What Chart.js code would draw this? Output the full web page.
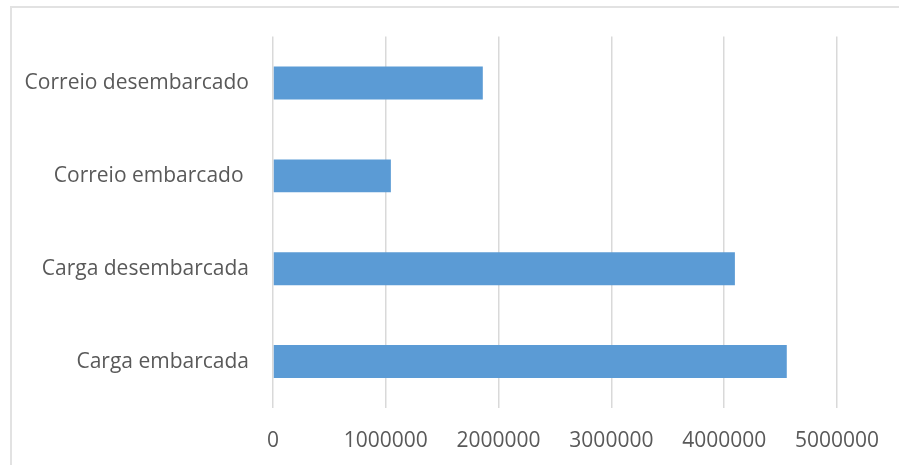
<!DOCTYPE html>
<html>
<head>
<meta charset="utf-8">
<script src="https://cdn.jsdelivr.net/npm/chart.js@4/dist/chart.umd.min.js"></script>
<style>
    html, body {
        margin: 0;
        padding: 0;
        background: #fff;
        overflow: hidden;
    }
    .frame {
        position: absolute;
        left: 10px;
        top: 6px;
        width: 1000px;
        height: 1000px;
        border: 2px solid #e2e2e2;
    }
    .chart {
        position: absolute;
        left: 0;
        top: 0;
        width: 899px;
        height: 465px;
    }
</style>
</head>
<body>
<div class="frame"></div>
<div class="chart">
    <canvas id="myChart" width="899" height="465"></canvas>
</div>
<script>
    const categories = ['Correio desembarcado', 'Correio embarcado ', 'Carga desembarcada', 'Carga embarcada'];
    const values = [1860000, 1045000, 4095000, 4555000];
    const xTicks = [0, 1000000, 2000000, 3000000, 4000000, 5000000];

    const textFont = { family: "'Open Sans', 'Noto Sans', sans-serif", size: 21 };

    const ctx = document.getElementById('myChart').getContext('2d');
    const myChart = new Chart(ctx, {
        type: 'bar',
        data: {
            labels: categories,
            datasets: [{
                data: values,
                backgroundColor: '#5b9bd5',
                categoryPercentage: 1,
                barPercentage: 0.355
            }]
        },
        options: {
            indexAxis: 'y',
            responsive: false,
            animation: false,
            layout: { padding: { top: 36, right: 60, left: 0, bottom: 0 } },
            plugins: {
                legend: { display: false },
                tooltip: { enabled: false }
            },
            scales: {
                x: {
                    min: 0,
                    max: 5000000,
                    afterBuildTicks: (scale) => {
                        scale.ticks = xTicks.map(v => ({ value: v }));
                    },
                    afterFit: (scale) => { scale.height = 57; },
                    grid: { color: '#d9d9d9', lineWidth: 1.5, drawTicks: false },
                    border: { display: false },
                    ticks: {
                        color: '#595959',
                        font: textFont,
                        padding: 20,
                        maxRotation: 0,
                        callback: (v) => String(v)
                    }
                },
                y: {
                    afterFit: (scale) => { scale.width = 273; },
                    grid: { display: false, drawTicks: false },
                    border: { display: false },
                    ticks: {
                        color: '#595959',
                        font: textFont,
                        padding: 24
                    }
                }
            }
        }
    });
</script>
</body>
</html>
